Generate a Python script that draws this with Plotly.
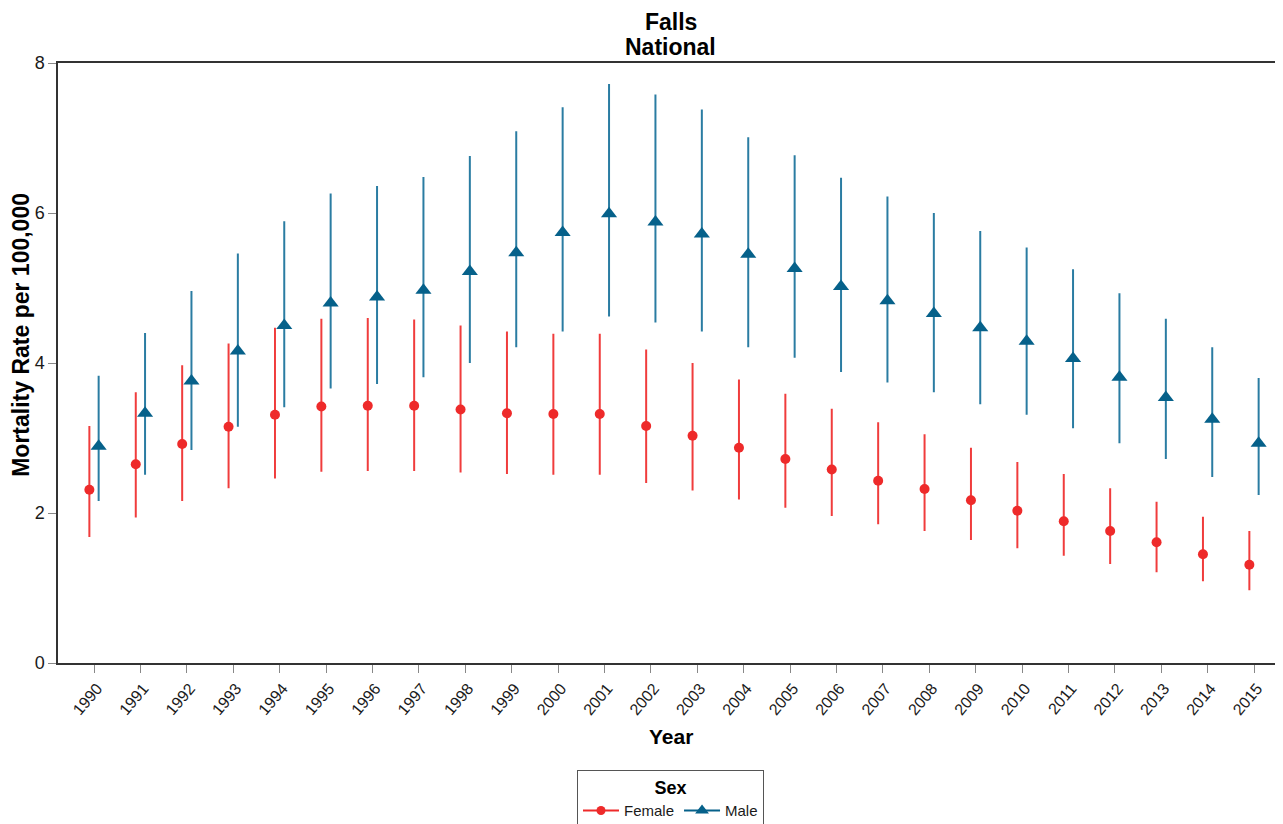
import plotly.graph_objects as go

years = list(range(1990, 2016))

female_rate = [2.31, 2.65, 2.92, 3.15, 3.31, 3.42, 3.43, 3.43, 3.38, 3.33, 3.32, 3.32, 3.16, 3.03,
               2.87, 2.72, 2.58, 2.43, 2.32, 2.17, 2.03, 1.89, 1.76, 1.61, 1.45, 1.31]
female_upper = [3.16, 3.61, 3.97, 4.26, 4.47, 4.59, 4.60, 4.58, 4.50, 4.42, 4.39, 4.39, 4.18, 4.00,
                3.78, 3.59, 3.39, 3.21, 3.05, 2.87, 2.68, 2.52, 2.33, 2.15, 1.95, 1.76]
female_lower = [1.68, 1.94, 2.16, 2.33, 2.46, 2.55, 2.56, 2.56, 2.54, 2.52, 2.51, 2.51, 2.40, 2.30,
                2.18, 2.07, 1.96, 1.85, 1.76, 1.64, 1.53, 1.43, 1.32, 1.21, 1.09, 0.97]

male_rate = [2.89, 3.33, 3.76, 4.16, 4.50, 4.80, 4.88, 4.97, 5.22, 5.47, 5.74, 5.99, 5.88, 5.72,
             5.45, 5.26, 5.02, 4.83, 4.66, 4.47, 4.29, 4.06, 3.81, 3.54, 3.25, 2.93]
male_upper = [3.83, 4.40, 4.96, 5.46, 5.89, 6.26, 6.36, 6.48, 6.76, 7.09, 7.41, 7.72, 7.58, 7.38,
              7.01, 6.77, 6.47, 6.22, 6.00, 5.76, 5.54, 5.25, 4.93, 4.59, 4.21, 3.80]
male_lower = [2.16, 2.51, 2.84, 3.15, 3.41, 3.66, 3.72, 3.81, 4.00, 4.21, 4.42, 4.62, 4.54, 4.42,
              4.21, 4.07, 3.88, 3.74, 3.61, 3.45, 3.31, 3.13, 2.93, 2.72, 2.48, 2.24]

y_ticks = [0, 2, 4, 6, 8]

FEMALE_COLOR = "#EE2A2A"
FEMALE_CI_COLOR = "#F03C3C"
MALE_COLOR = "#06618A"
MALE_CI_COLOR = "#2A7CA2"
DODGE = 0.1
FONT = "Liberation Sans, Arial, sans-serif"

fig = go.Figure()

fig.add_trace(go.Scatter(
    x=[y - DODGE for y in years], y=female_rate, mode="markers", showlegend=False,
    marker=dict(symbol="circle", size=10, color=FEMALE_COLOR),
    error_y=dict(type="data", symmetric=False,
                 array=[u - r for u, r in zip(female_upper, female_rate)],
                 arrayminus=[r - l for r, l in zip(female_rate, female_lower)],
                 width=0, thickness=2, color=FEMALE_CI_COLOR),
))
fig.add_trace(go.Scatter(
    x=[y + DODGE for y in years], y=male_rate, mode="markers", showlegend=False,
    marker=dict(symbol="triangle-up", size=14, color=MALE_COLOR),
    error_y=dict(type="data", symmetric=False,
                 array=[u - r for u, r in zip(male_upper, male_rate)],
                 arrayminus=[r - l for r, l in zip(male_rate, male_lower)],
                 width=0, thickness=2, color=MALE_CI_COLOR),
))

# legend entries (line + marker)
fig.add_trace(go.Scatter(x=[None], y=[None], mode="lines+markers", name="Female",
                         line=dict(color=FEMALE_COLOR, width=2),
                         marker=dict(symbol="circle", size=9, color=FEMALE_COLOR)))
fig.add_trace(go.Scatter(x=[None], y=[None], mode="lines+markers", name="Male",
                         line=dict(color=MALE_COLOR, width=2),
                         marker=dict(symbol="triangle-up", size=12, color=MALE_COLOR)))

annotations = [
    dict(text="<b>Falls</b>", x=0.5, y=1.0683, xref="paper", yref="paper",
         xanchor="center", yanchor="middle", showarrow=False,
         font=dict(size=23, color="black", family=FONT)),
    dict(text="<b>National</b>", x=0.5, y=1.0267, xref="paper", yref="paper",
         xanchor="center", yanchor="middle", showarrow=False,
         font=dict(size=23, color="black", family=FONT)),
    dict(text="<b>Year</b>", x=0.5, y=-0.1217, xref="paper", yref="paper",
         xanchor="center", yanchor="middle", showarrow=False,
         font=dict(size=21, color="black", family=FONT)),
    dict(text="<b>Mortality Rate per 100,000</b>", x=-0.0302, y=0.547, xref="paper", yref="paper",
         xanchor="center", yanchor="middle", showarrow=False, textangle=-90,
         font=dict(size=23, color="black", family=FONT)),
]

# the page body has an 8px margin, so the figure is sized to fill the rest of the window
fig.update_layout(
    width=1275, height=816,
    margin=dict(l=50, r=0, t=55, b=161, autoexpand=False),
    paper_bgcolor="white", plot_bgcolor="white",
    font=dict(family=FONT, color="#1a1a1a"),
    annotations=annotations,
    xaxis=dict(
        range=[1989.224, 2015.625], tickmode="array", tickvals=years,
        ticktext=[str(y) for y in years], tickangle=-50,
        tickfont=dict(size=16, color="#1a1a1a"),
        ticks="outside", ticklen=8, tickcolor="#888888", tickwidth=1,
        ticklabelshift=3,
        showline=True, linecolor="#333333", linewidth=1.5, mirror=True,
        showgrid=False, zeroline=False, automargin=False,
    ),
    yaxis=dict(
        range=[0, 8], tickmode="array", tickvals=y_ticks,
        tickfont=dict(size=18, color="#1a1a1a"),
        ticks="outside", ticklen=8, tickcolor="#888888", tickwidth=1,
        showline=True, linecolor="#333333", linewidth=1.5,
        showgrid=False, zeroline=False, automargin=False,
    ),
    legend=dict(
        orientation="h", x=0.5, xanchor="center", y=-0.178, yanchor="top",
        bordercolor="#555555", borderwidth=1, bgcolor="white",
        font=dict(size=15, color="#1a1a1a"),
        title=dict(text="<b>Sex</b>", side="top center", font=dict(size=18, color="black")),
        itemwidth=36,
    ),
)

fig.write_html("out.html")
